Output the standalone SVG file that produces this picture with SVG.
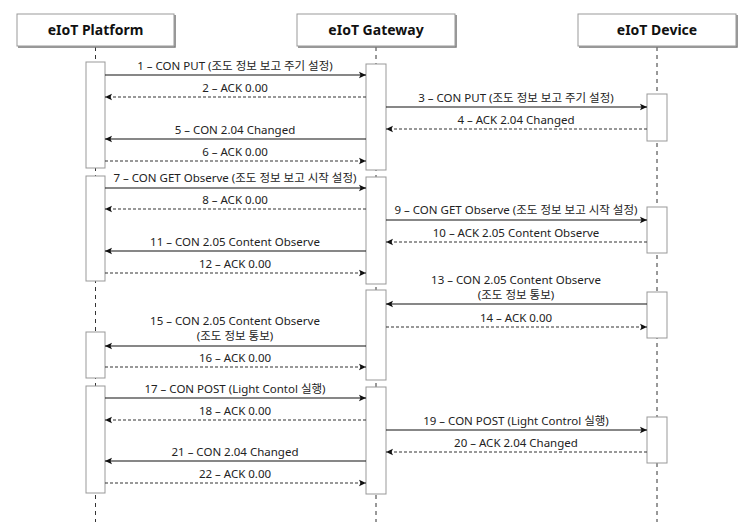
<svg xmlns="http://www.w3.org/2000/svg" width="747" height="530" viewBox="0 0 747 530">
<style>
.hdr{fill:#fff;stroke:#999;stroke-width:1}
.hdrs{fill:none;stroke:#777;stroke-width:1.5}
.ht{font-family:"Noto Sans","Liberation Sans",sans-serif;font-size:14px;font-weight:bold;fill:#111;text-anchor:middle}
.life{stroke:#333;stroke-width:1;stroke-dasharray:4,4}
.act{fill:#fff;stroke:#999;stroke-width:1}
.req{stroke:#111;stroke-width:1.2;fill:none;marker-end:url(#ah)}
.rsp{stroke:#333;stroke-width:1.1;fill:none;stroke-dasharray:3,2;marker-end:url(#ah)}
.lbl{font-family:"Noto Sans","Noto Sans CJK KR",sans-serif;font-size:11.5px;fill:#222;text-anchor:middle}
</style>
<defs>
<marker id="ah" markerWidth="8" markerHeight="8" refX="7" refY="4" orient="auto" markerUnits="userSpaceOnUse">
<path d="M0,0.8 L7,4 L0,7.2 L1.5,4 Z" fill="#111"/>
</marker>
</defs>
<rect width="747" height="530" fill="#fff"/>
<g id="lifelines">
<line class="life" x1="95.5" y1="47" x2="95.5" y2="522"/>
<line class="life" x1="376" y1="47" x2="376" y2="522"/>
<line class="life" x1="657" y1="47" x2="657" y2="522"/>
</g>
<g id="platform">
<polyline class="hdrs" points="18,47 175,47 175,15"/>
<rect class="hdr" x="17" y="14" width="157" height="32"/>
<text class="ht" x="95.5" y="35">eIoT Platform</text>
<rect class="act" x="86" y="62" width="19" height="106"/>
<rect class="act" x="86" y="176" width="19" height="105"/>
<rect class="act" x="86" y="332" width="19" height="46"/>
<rect class="act" x="86" y="386" width="19" height="107"/>
</g>
<g id="gateway">
<polyline class="hdrs" points="298,47 456,47 456,15"/>
<rect class="hdr" x="297" y="14" width="158" height="32"/>
<text class="ht" x="376" y="35">eIoT Gateway</text>
<rect class="act" x="366" y="64" width="20" height="106"/>
<rect class="act" x="366" y="177" width="20" height="107"/>
<rect class="act" x="366" y="290" width="20" height="90"/>
<rect class="act" x="366" y="387" width="20" height="107"/>
</g>
<g id="device">
<polyline class="hdrs" points="579,47 737,47 737,15"/>
<rect class="hdr" x="578" y="14" width="158" height="32"/>
<text class="ht" x="657" y="35">eIoT Device</text>
<rect class="act" x="647" y="94" width="20" height="47"/>
<rect class="act" x="647" y="207" width="20" height="46"/>
<rect class="act" x="647" y="292" width="20" height="46"/>
<rect class="act" x="647" y="417" width="20" height="46"/>
</g>
<g id="connectors">
<line class="req" x1="105" y1="75" x2="366" y2="75"/>
<line class="rsp" x1="366" y1="97" x2="105" y2="97"/>
<line class="req" x1="386" y1="107" x2="647" y2="107"/>
<line class="rsp" x1="647" y1="129" x2="386" y2="129"/>
<line class="req" x1="366" y1="139" x2="105" y2="139"/>
<line class="rsp" x1="105" y1="161" x2="366" y2="161"/>
<line class="req" x1="105" y1="188" x2="366" y2="188"/>
<line class="rsp" x1="366" y1="209" x2="105" y2="209"/>
<line class="req" x1="386" y1="220" x2="647" y2="220"/>
<line class="rsp" x1="647" y1="242" x2="386" y2="242"/>
<line class="req" x1="366" y1="251" x2="105" y2="251"/>
<line class="rsp" x1="105" y1="273" x2="366" y2="273"/>
<line class="req" x1="647" y1="304" x2="386" y2="304"/>
<line class="rsp" x1="386" y1="327" x2="647" y2="327"/>
<line class="req" x1="366" y1="346" x2="105" y2="346"/>
<line class="rsp" x1="105" y1="367" x2="366" y2="367"/>
<line class="req" x1="105" y1="398" x2="366" y2="398"/>
<line class="rsp" x1="366" y1="420" x2="105" y2="420"/>
<line class="req" x1="386" y1="430" x2="647" y2="430"/>
<line class="rsp" x1="647" y1="452" x2="386" y2="452"/>
<line class="req" x1="366" y1="461" x2="105" y2="461"/>
<line class="rsp" x1="105" y1="483" x2="366" y2="483"/>
</g>
<g id="labels">
<text class="lbl" x="235" y="70">1 – CON PUT (조도 정보 보고 주기 설정)</text>
<text class="lbl" x="235" y="92">2 – ACK 0.00</text>
<text class="lbl" x="516" y="102">3 – CON PUT (조도 정보 보고 주기 설정)</text>
<text class="lbl" x="516" y="124">4 – ACK 2.04 Changed</text>
<text class="lbl" x="235" y="134">5 – CON 2.04 Changed</text>
<text class="lbl" x="235" y="156">6 – ACK 0.00</text>
<text class="lbl" x="235" y="182">7 – CON GET Observe (조도 정보 보고 시작 설정)</text>
<text class="lbl" x="235" y="204">8 – ACK 0.00</text>
<text class="lbl" x="516" y="214">9 – CON GET Observe (조도 정보 보고 시작 설정)</text>
<text class="lbl" x="516" y="237">10 – ACK 2.05 Content Observe</text>
<text class="lbl" x="235" y="246">11 – CON 2.05 Content Observe</text>
<text class="lbl" x="235" y="268">12 – ACK 0.00</text>
<text class="lbl" x="516" y="284">13 – CON 2.05 Content Observe</text>
<text class="lbl" x="516" y="299">(조도 정보 통보)</text>
<text class="lbl" x="516" y="322">14 – ACK 0.00</text>
<text class="lbl" x="235" y="325">15 – CON 2.05 Content Observe</text>
<text class="lbl" x="235" y="340">(조도 정보 통보)</text>
<text class="lbl" x="235" y="362">16 – ACK 0.00</text>
<text class="lbl" x="235" y="393">17 – CON POST (Light Contol 실행)</text>
<text class="lbl" x="235" y="415">18 – ACK 0.00</text>
<text class="lbl" x="516" y="425">19 – CON POST (Light Control 실행)</text>
<text class="lbl" x="516" y="447">20 – ACK 2.04 Changed</text>
<text class="lbl" x="235" y="456">21 – CON 2.04 Changed</text>
<text class="lbl" x="235" y="478">22 – ACK 0.00</text>
</g>
</svg>
